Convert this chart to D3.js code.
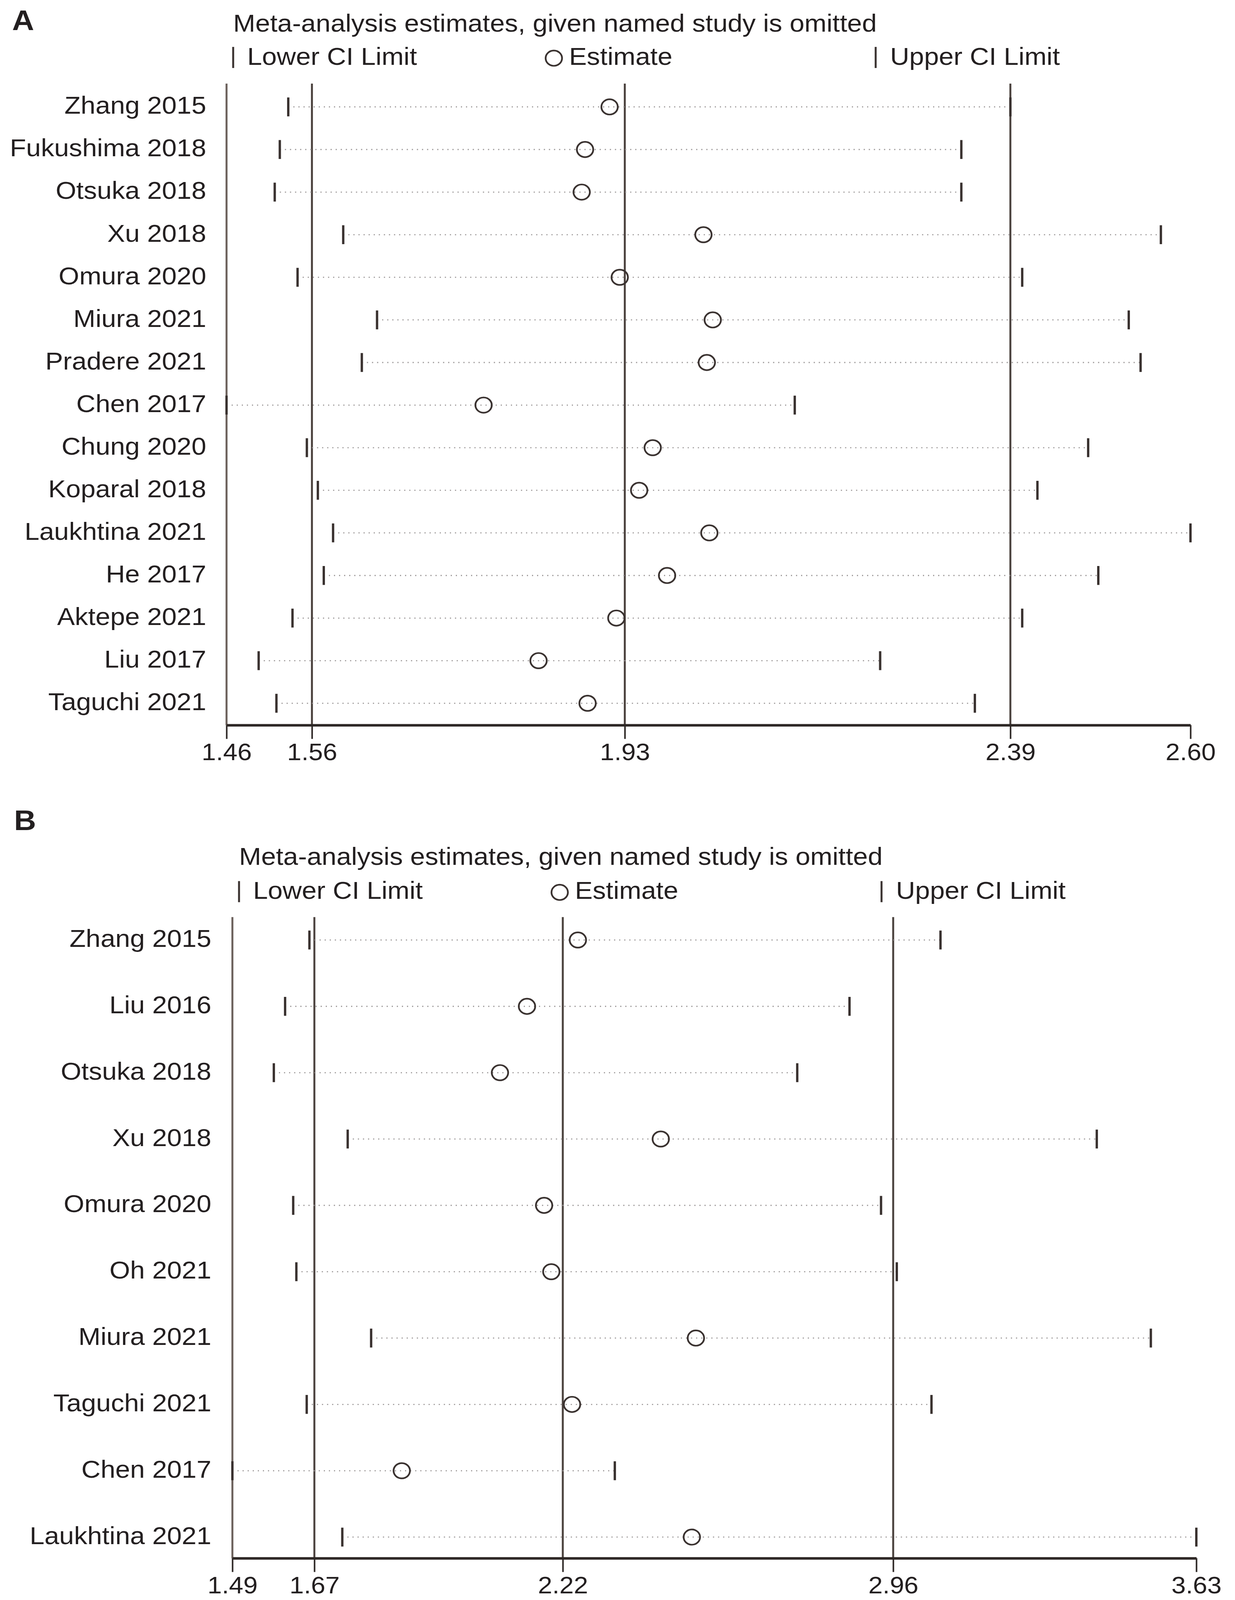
<!DOCTYPE html>
<html>
<head>
<meta charset="utf-8">
<script src="https://cdn.jsdelivr.net/npm/d3@7"></script>
<style>
  html, body { margin: 0; padding: 0; width: 100%; height: 100%; overflow: hidden; background: #fff; }
  #chart { position: absolute; left: 0; top: 0; width: 100vw; height: 100vh; }
  svg { display: block; }
  text { font-family: "Liberation Sans", Arial, sans-serif; fill: #231f20; }
</style>
</head>
<body>
<div id="chart"></div>
<script>
// Panel A: leave-one-out estimates
var studiesA = ["Zhang 2015", "Fukushima 2018", "Otsuka 2018", "Xu 2018", "Omura 2020",
  "Miura 2021", "Pradere 2021", "Chen 2017", "Chung 2020", "Koparal 2018",
  "Laukhtina 2021", "He 2017", "Aktepe 2021", "Liu 2017", "Taguchi 2021"];
var lowerA = [1.533, 1.523, 1.517, 1.598, 1.544, 1.638, 1.620, 1.460, 1.555, 1.568, 1.586, 1.575, 1.538, 1.498, 1.519];
var estimateA = [1.913, 1.884, 1.880, 2.024, 1.925, 2.035, 2.028, 1.764, 1.964, 1.948, 2.031, 1.981, 1.921, 1.829, 1.887];
var upperA = [2.387, 2.329, 2.329, 2.565, 2.401, 2.527, 2.541, 2.132, 2.479, 2.419, 2.600, 2.491, 2.401, 2.233, 2.345];
var overallA = [1.561, 1.931, 2.387]; // lower CI, estimate, upper CI

// Panel B
var studiesB = ["Zhang 2015", "Liu 2016", "Otsuka 2018", "Xu 2018", "Omura 2020",
  "Oh 2021", "Miura 2021", "Taguchi 2021", "Chen 2017", "Laukhtina 2021"];
var lowerB = [1.661, 1.607, 1.582, 1.746, 1.625, 1.632, 1.798, 1.655, 1.490, 1.734];
var estimateB = [2.257, 2.144, 2.084, 2.441, 2.182, 2.198, 2.519, 2.244, 1.866, 2.510];
var upperB = [3.062, 2.860, 2.744, 3.409, 2.930, 2.965, 3.529, 3.042, 2.339, 3.630];
var overallB = [1.672, 2.2235, 2.957];

var titleText = "Meta-analysis estimates, given named study is omitted";

var width = 3162;
var height = 4400;
var font_size = 68;
var tick_font_size = 66;
var line_color = "#4b423e";
var mark_color = "#3a3230";

// drawn in 3162x4400 units, stretched to whatever the window really is
var svg = d3.select("#chart").append("svg")
    .attr("width", "100%")
    .attr("height", "100%")
    .attr("viewBox", "0 0 " + width + " " + height)
    .attr("preserveAspectRatio", "none");

svg.append("rect")
    .attr("width", width)
    .attr("height", height)
    .attr("fill", "#fff");

var draw_panel = function(p) {
  var g = svg.append("g");

  var x_scale = d3.scaleLinear()
      .domain([d3.min(p.lower), d3.max(p.upper)])
      .range([p.left, p.right]);

  var y_scale = d3.scalePoint()
      .domain(p.studies)
      .range([p.first_row, p.last_row]);

  // panel letter
  g.append("text")
      .attr("x", p.letter_x)
      .attr("y", p.letter_y)
      .attr("font-size", 78)
      .attr("font-weight", "bold")
      .text(p.letter);

  // title + legend
  g.append("text")
      .attr("x", p.title_x)
      .attr("y", p.title_y)
      .attr("font-size", font_size)
      .text(titleText);

  var ly = p.legend_y;
  var lx = p.title_x;
  g.append("line")
      .attr("x1", lx).attr("x2", lx)
      .attr("y1", ly - 49).attr("y2", ly + 9)
      .attr("stroke", mark_color).attr("stroke-width", 5);
  g.append("text")
      .attr("x", lx + 36).attr("y", ly)
      .attr("font-size", font_size)
      .text("Lower CI Limit");
  g.append("circle")
      .attr("cx", lx + 821).attr("cy", ly - 18).attr("r", 21)
      .attr("fill", "none").attr("stroke", mark_color).attr("stroke-width", 4.5);
  g.append("text")
      .attr("x", lx + 860).attr("y", ly)
      .attr("font-size", font_size)
      .text("Estimate");
  g.append("line")
      .attr("x1", lx + 1645).attr("x2", lx + 1645)
      .attr("y1", ly - 49).attr("y2", ly + 9)
      .attr("stroke", mark_color).attr("stroke-width", 5);
  g.append("text")
      .attr("x", lx + 1682).attr("y", ly)
      .attr("font-size", font_size)
      .text("Upper CI Limit");

  // y axis line at left edge
  g.append("line")
      .attr("x1", x_scale.range()[0]).attr("x2", x_scale.range()[0])
      .attr("y1", p.plot_top).attr("y2", p.axis_y)
      .attr("stroke", "#6b605b").attr("stroke-width", 5);

  // overall lower, estimate, upper
  g.selectAll(".overall")
      .data(p.overall)
    .enter().append("line")
      .attr("class", "overall")
      .attr("x1", function(d) { return x_scale(d); })
      .attr("x2", function(d) { return x_scale(d); })
      .attr("y1", p.plot_top)
      .attr("y2", p.axis_y)
      .attr("stroke", line_color)
      .attr("stroke-width", 5);

  var rows = p.studies.map(function(s, i) {
    return { study: s, lower: p.lower[i], est: p.estimate[i], upper: p.upper[i] };
  });

  // dotted CI lines
  g.selectAll(".ci")
      .data(rows)
    .enter().append("line")
      .attr("class", "ci")
      .attr("x1", function(d) { return x_scale(d.lower); })
      .attr("x2", function(d) { return x_scale(d.upper); })
      .attr("y1", function(d) { return y_scale(d.study); })
      .attr("y2", function(d) { return y_scale(d.study); })
      .attr("stroke", "#9a9696")
      .attr("stroke-width", 3)
      .attr("stroke-dasharray", "3,10");

  // lower and upper marks
  ["lower", "upper"].forEach(function(key) {
    g.selectAll(".mark-" + key)
        .data(rows)
      .enter().append("line")
        .attr("class", "mark-" + key)
        .attr("x1", function(d) { return x_scale(d[key]); })
        .attr("x2", function(d) { return x_scale(d[key]); })
        .attr("y1", function(d) { return y_scale(d.study) - 26; })
        .attr("y2", function(d) { return y_scale(d.study) + 26; })
        .attr("stroke", mark_color)
        .attr("stroke-width", 6);
  });

  // estimates
  g.selectAll(".est")
      .data(rows)
    .enter().append("circle")
      .attr("class", "est")
      .attr("cx", function(d) { return x_scale(d.est); })
      .attr("cy", function(d) { return y_scale(d.study); })
      .attr("r", 21)
      .attr("fill", "none")
      .attr("stroke", mark_color)
      .attr("stroke-width", 4.5);

  // study labels
  g.selectAll(".study")
      .data(rows)
    .enter().append("text")
      .attr("class", "study")
      .attr("x", p.label_x)
      .attr("y", function(d) { return y_scale(d.study) + 19; })
      .attr("text-anchor", "end")
      .attr("font-size", font_size)
      .text(function(d) { return d.study; });

  // x axis
  var domain = x_scale.domain();
  var axis = d3.axisBottom(x_scale)
      .tickValues([domain[0]].concat(p.overall, [domain[1]]))
      .tickFormat(d3.format(".2f"))
      .tickSize(38)
      .tickSizeOuter(0)
      .tickPadding(12);

  var ax = g.append("g")
      .attr("transform", "translate(0," + p.axis_y + ")")
      .call(axis);
  ax.select(".domain").attr("stroke", "#2e2826").attr("stroke-width", 7);
  ax.selectAll(".tick line").attr("stroke", "#2e2826").attr("stroke-width", 4);
  ax.selectAll(".tick text")
      .attr("font-size", tick_font_size)
      .attr("font-family", "Liberation Sans, Arial, sans-serif")
      .attr("fill", "#231f20");
}

draw_panel({
  letter: "A", letter_x: 31, letter_y: 83,
  title_x: 597, title_y: 87, legend_y: 178,
  studies: studiesA, lower: lowerA, estimate: estimateA, upper: upperA, overall: overallA,
  left: 580, right: 3048,
  plot_top: 230, first_row: 294, last_row: 1934, axis_y: 1994,
  label_x: 528
});

draw_panel({
  letter: "B", letter_x: 36, letter_y: 2283,
  title_x: 612, title_y: 2378, legend_y: 2472,
  studies: studiesB, lower: lowerB, estimate: estimateB, upper: upperB, overall: overallB,
  left: 595, right: 3063,
  plot_top: 2522, first_row: 2585, last_row: 4227, axis_y: 4285,
  label_x: 541
});
</script>
</body>
</html>
